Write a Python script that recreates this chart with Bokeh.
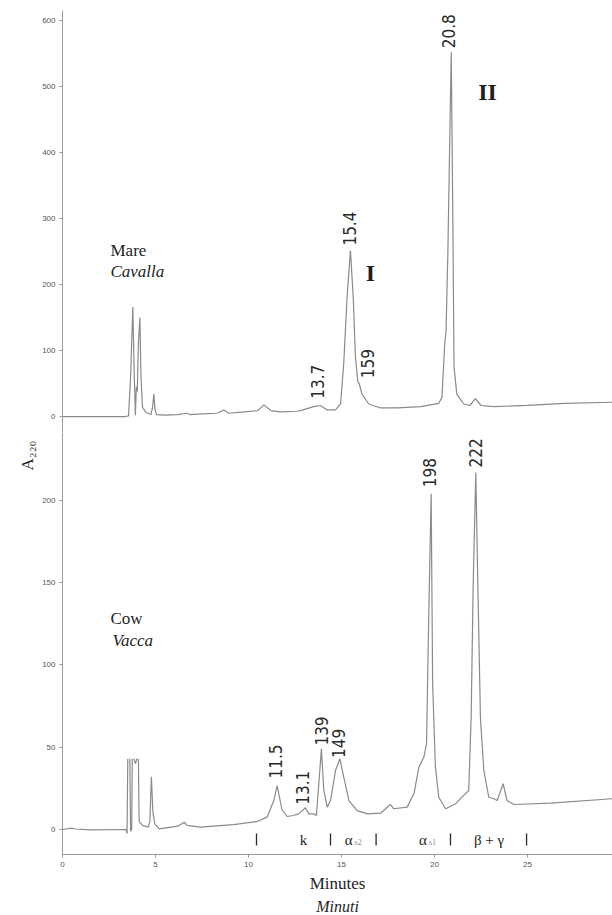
import math
from bokeh.plotting import figure
from bokeh.models import Range1d, FixedTicker, Label, LabelSet, ColumnDataSource, Title
from bokeh.layouts import column
from bokeh.embed import file_html
from bokeh.resources import INLINE
from bokeh.core.properties import value

nan = float("nan")

# ---------------- data ----------------
mare_minutes = [0.0, 1.0, 2.0, 3.39, 3.55, 3.66, 3.78, 3.86, 3.92, 3.97, 4.02, 4.08, 4.16, 4.22,
                4.30, 4.50, 4.75, 4.85, 4.91, 4.97, 5.05, 5.50, 6.20, 6.70, 6.85, 7.50, 8.30,
                8.67, 8.95, 9.80, 10.50, 10.82, 11.20, 11.70, 12.60, 12.80, 13.50, 13.87, 14.23,
                14.68, 14.95, 15.12, 15.30, 15.48, 15.63, 15.75, 15.88, 15.95, 16.10, 16.47,
                17.10, 18.00, 19.25, 20.23, 20.40, 20.55, 20.62, 20.72, 20.90, 20.98, 21.05,
                21.20, 21.57, 21.90, 22.20, 22.50, 23.20, 25.00, 27.00, 29.60]
mare_a220 = [0, 0, 0, 0, 1, 60, 166, 60, 2, 45, 38, 110, 150, 60,
             14, 6, 3, 15, 34, 12, 3, 2, 3, 5, 3, 4, 5,
             10, 5, 7, 9, 17.7, 9, 7, 8, 9, 15, 16.7, 10,
             10, 19, 80, 181, 251.5, 181, 90, 52, 50, 34, 19,
             13, 13, 15, 20, 29, 110, 128, 250, 552, 317, 75,
             34, 19, 16.7, 27, 16.7, 15, 17, 20, 21.7]

cow_minutes = [0.0, 0.5, 0.7, 1.5, 3.42, 3.47, 3.51, nan, 3.62, 3.66, 3.72, 3.75, nan,
               3.84, 3.92, 4.00, nan, 4.08, 4.12, 4.30, 4.61, 4.70, 4.78, 4.86, 4.96, 5.20,
               6.20, 6.55, 6.70, 7.40, 9.20, 10.47, 11.00, 11.36, 11.54, 11.80, 12.08, 12.40,
               12.70, 13.06, 13.24, 13.50, 13.65, 13.78, 13.92, 14.05, 14.23, 14.41, 14.68,
               14.91, 15.12, 15.40, 15.84, 16.40, 17.10, 17.63, 17.81, 18.53, 18.90, 19.16,
               19.43, 19.57, 19.69, 19.82, 19.90, 20.05, 20.23, 20.60, 21.13, 21.57, 21.84,
               21.97, 22.08, 22.22, 22.33, 22.47, 22.65, 22.92, 23.19, 23.37, 23.69, 23.90,
               24.26, 26.24, 29.57]
cow_a220 = [0, 0.8, 0.3, -0.2, 0, -2.5, 43, nan, 43, -1, 0, 43, nan,
            43, 40, 43, nan, 43, 5, 2.5, 1.4, 5, 32, 10.5, 3.4, 0.4,
            2, 4.4, 2.5, 1.4, 3, 4.9, 7.5, 17.6, 26.7, 12, 7.9, 8.5,
            9.5, 13.2, 9.5, 9.5, 8.5, 27.8, 49, 23.7, 13.6, 17.6, 35.9,
            43, 31.8, 17.6, 11.5, 9.5, 9.9, 15.2, 12.6, 13.6, 22, 37.9,
            44, 52, 129, 204, 88.6, 37.9, 19.6, 12.6, 15.6, 20.7, 23.7,
            68, 149, 217, 149, 68, 35.9, 19.6, 18.7, 17.6, 27.8, 17.6,
            15.2, 16, 18.7]

mare_peak_text = ["13.7", "15.4", "159", "20.8"]
mare_peak_minutes = [13.71, 15.43, 16.40, 20.75]
mare_peak_a220 = [21, 253, 52, 552]

cow_peak_text = ["11.5", "13.1", "139", "149", "198", "222"]
cow_peak_minutes = [11.45, 12.90, 13.92, 14.84, 19.73, 22.20]
cow_peak_a220 = [28.5, 12.5, 48.5, 41, 205.5, 217.5]

fraction_bounds = [10.43, 14.41, 16.86, 20.86, 24.95]
fraction_names = ["k", "\u03b1", "\u03b1", "\u03b2 + \u03b3"]
fraction_subs = ["", "s2", "s1", ""]
fraction_centers = [12.96, 15.38, 19.38, 22.93]

x_ticks = [0, 5, 10, 15, 20, 25]
mare_y_ticks = [0, 100, 200, 300, 400, 500, 600]
cow_y_ticks = [0, 50, 100, 150, 200]

# ---------------- styles ----------------
CURVE = "#8a8a8a"
AXIS = "#9a9a9a"
TICKLAB = "#555555"
INK = "#1e1e1e"
NUMFONT = "'Liberation Sans Narrow', 'DejaVu Sans Condensed', 'Roboto Condensed', 'Liberation Sans', sans-serif"
SERIF = "Liberation Serif"
X_RANGE = Range1d(0, 29.57)


def style_axes(p):
    p.xgrid.visible = False
    p.ygrid.visible = False
    p.outline_line_color = None
    p.background_fill_color = "white"
    p.border_fill_color = "white"
    for ax in p.axis:
        ax.axis_line_color = AXIS
        ax.major_tick_line_color = AXIS
        ax.minor_tick_line_color = None
        ax.major_tick_out = 3
        ax.major_tick_in = 0
        ax.major_label_text_font_size = "8px"
        ax.major_label_text_color = TICKLAB
        ax.major_label_text_font = "Liberation Sans"
        ax.major_label_standoff = 4


# ---------------- top panel: mare ----------------
top = figure(frame_width=550, frame_height=422, x_range=X_RANGE, y_range=Range1d(-24.2, 615.15),
             x_axis_location=None, output_backend="svg", toolbar_location=None,
             min_border_left=62, min_border_right=0, min_border_top=10, min_border_bottom=0)
top.yaxis.ticker = FixedTicker(ticks=mare_y_ticks)
style_axes(top)
top.line(mare_minutes, mare_a220, line_color=CURVE, line_width=1.2)

gap_top = 6
src_top = ColumnDataSource(dict(x=mare_peak_minutes, y=[v + gap_top for v in mare_peak_a220],
                                text=mare_peak_text))
top.add_layout(LabelSet(x="x", y="y", text="text", source=src_top, angle=math.pi / 2,
                        text_align="left", text_baseline="middle", text_font=value(NUMFONT),
                        text_font_size="17px", text_color="#2a2a2a"))

top.add_layout(Label(x=2.58, y=252, text="Mare", text_font=SERIF, text_font_size="17px",
                     text_align="left", text_baseline="middle", text_color=INK))
top.add_layout(Label(x=2.58, y=220, text="Cavalla", text_font=SERIF, text_font_size="17px",
                     text_font_style="italic", text_align="left", text_baseline="middle",
                     text_color=INK))
top.add_layout(Label(x=16.56, y=218, text="I", text_font=SERIF, text_font_size="24px",
                     text_font_style="bold", text_align="center", text_baseline="middle",
                     text_color=INK))
top.add_layout(Label(x=22.85, y=491, text="II", text_font=SERIF, text_font_size="24px",
                     text_font_style="bold", text_align="center", text_baseline="middle",
                     text_color=INK))

# ---------------- bottom panel: cow ----------------
bot = figure(frame_width=550, frame_height=422, x_range=X_RANGE, y_range=Range1d(-15.2, 241.3),
             output_backend="svg", toolbar_location=None,
             min_border_left=62, min_border_right=0, min_border_top=0, min_border_bottom=61)
bot.xaxis.ticker = FixedTicker(ticks=x_ticks)
bot.yaxis.ticker = FixedTicker(ticks=cow_y_ticks)
style_axes(bot)
bot.xaxis.axis_label = "Minutes"
bot.xaxis.axis_label_text_font = SERIF
bot.xaxis.axis_label_text_font_size = "17px"
bot.xaxis.axis_label_text_font_style = "normal"
bot.xaxis.axis_label_text_color = INK
bot.xaxis.axis_label_standoff = 4
bot.add_layout(Title(text="Minuti", align="center", text_font=SERIF, text_font_size="16px",
                     text_font_style="italic", text_color=INK, standoff=0, offset=0), "below")
bot.add_layout(Title(text="A\u2082\u2082\u2080", align="right", offset=8, text_font=SERIF,
                     text_font_size="17px", text_font_style="normal", text_color=INK,
                     standoff=6), "left")
bot.line(cow_minutes, cow_a220, line_color=CURVE, line_width=1.2)

gap_bot = 2.5
src_bot = ColumnDataSource(dict(x=cow_peak_minutes, y=[v + gap_bot for v in cow_peak_a220],
                                text=cow_peak_text))
bot.add_layout(LabelSet(x="x", y="y", text="text", source=src_bot, angle=math.pi / 2,
                        text_align="left", text_baseline="middle", text_font=value(NUMFONT),
                        text_font_size="17px", text_color="#2a2a2a"))

bot.add_layout(Label(x=2.58, y=128, text="Cow", text_font=SERIF, text_font_size="17px",
                     text_align="left", text_baseline="middle", text_color=INK))
bot.add_layout(Label(x=2.69, y=115, text="Vacca", text_font=SERIF, text_font_size="17px",
                     text_font_style="italic", text_align="left", text_baseline="middle",
                     text_color=INK))

# fraction boundaries and names
bot.segment(x0=fraction_bounds, y0=[-2.4] * len(fraction_bounds),
            x1=fraction_bounds, y1=[-9.7] * len(fraction_bounds),
            line_color="#2a2a2a", line_width=1.3)
for name, sub, xc in zip(fraction_names, fraction_subs, fraction_centers):
    bot.add_layout(Label(x=xc, y=-6.1, text=name, text_font=SERIF, text_font_size="15px",
                         text_align="center", text_baseline="middle", text_color=INK))
    if sub:
        bot.add_layout(Label(x=xc + 0.32, y=-7.8, text=sub, text_font=SERIF,
                             text_font_size="8px", text_align="left",
                             text_baseline="middle", text_color="#8a8a8a"))

layout = column(top, bot, spacing=0)
open("out.html", "w").write(file_html(layout, INLINE))
